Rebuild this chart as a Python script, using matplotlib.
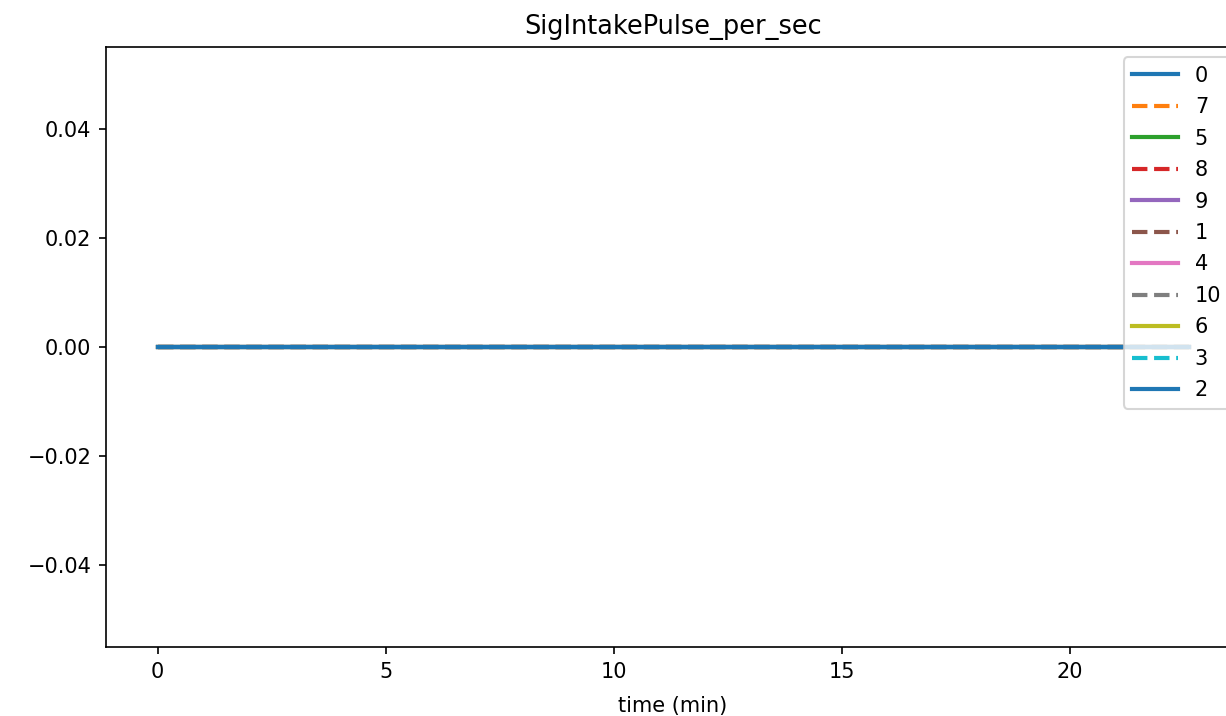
import matplotlib
matplotlib.use('Agg')
import matplotlib.pyplot as plt

# 时间（分钟）与各通道数值（全部为 0）
time_min = [0, 2, 4, 6, 8, 10, 12, 14, 16, 18, 20, 22, 22.6]
series_ids = ['0', '7', '5', '8', '9', '1', '4', '10', '6', '3', '2']
values = {sid: [0.0] * len(time_min) for sid in series_ids}

colors = ['tab:blue', 'tab:orange', 'tab:green', 'tab:red', 'tab:purple',
          'tab:brown', 'tab:pink', 'tab:gray', 'tab:olive', 'tab:cyan', 'tab:blue']

fig = plt.figure(figsize=(1226 / 150, 716 / 150), dpi=150)
ax = fig.add_axes([0.0865, 0.0964, 0.925, 0.838])

for i, sid in enumerate(series_ids):
    ls = '-' if i % 2 == 0 else '--'
    ax.plot(time_min, values[sid], color=colors[i], linestyle=ls, linewidth=2, label=sid)

ax.set_title('SigIntakePulse_per_sec', fontsize=12.3)
ax.set_xlabel('time (min)', labelpad=7)
ax.legend(loc='upper right', labelspacing=0.55, handlelength=2.2)

fig.savefig('out.png', dpi=150)
